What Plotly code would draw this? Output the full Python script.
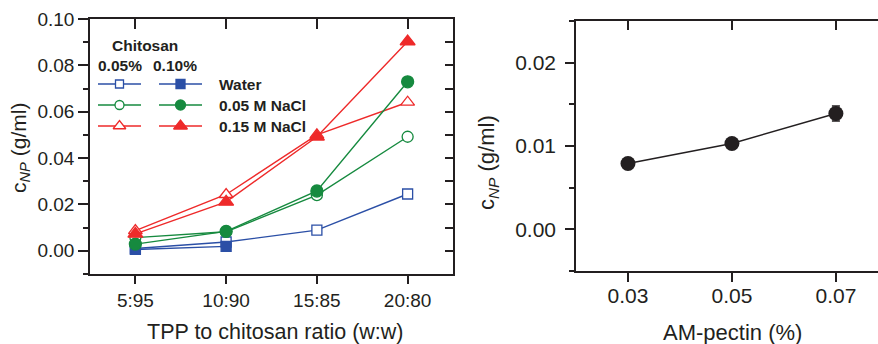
import plotly.graph_objects as go

W, H = 878, 344

# ---------------- data ----------------
ratios = ["5:95", "10:90", "15:85", "20:80"]

water_005 = [0.0010, 0.0038, 0.0089, 0.0245]
water_010 = [0.0006, 0.0019]
nacl005_005 = [0.0057, 0.0082, 0.0240, 0.0492]
nacl005_010 = [0.0029, 0.0084, 0.0258, 0.0729]
nacl015_005 = [0.0087, 0.0243, 0.0500, 0.0641]
nacl015_010 = [0.0073, 0.0211, 0.0492, 0.0903]

pectin = [0.03, 0.05, 0.07]
pectin_c = [0.0079, 0.0103, 0.0139]
pectin_err = [0.0003, 0.0003, 0.0009]

left_yticks = [0.00, 0.02, 0.04, 0.06, 0.08, 0.10]
right_yticks = [0.00, 0.01, 0.02]

BLUE = "#2B4FA6"
GREEN = "#168A3F"
RED = "#EE2A2A"
INK = "#231f20"
FONT = "Liberation Sans, Arial, sans-serif"


def px(x):
    return x / W


def py(y):
    return 1 - y / H


xpos = list(range(len(ratios)))

fig = go.Figure()

series = [
    (water_005, BLUE, "square", True, 10),
    (nacl005_005, GREEN, "circle", True, 11),
    (nacl015_005, RED, "triangle-up", True, 12),
    (water_010, BLUE, "square", False, 10),
    (nacl005_010, GREEN, "circle", False, 12),
    (nacl015_010, RED, "triangle-up", False, 13),
]

for vals, col, sym, opn, sz in series:
    fig.add_trace(go.Scatter(
        x=xpos[:len(vals)], y=vals, xaxis="x", yaxis="y",
        mode="lines+markers",
        line=dict(color=col, width=1.4),
        marker=dict(symbol=sym, size=sz,
                    color="white" if opn else col,
                    line=dict(color=col, width=1.3)),
        showlegend=False, hoverinfo="skip",
    ))

# right panel
fig.add_trace(go.Scatter(
    x=pectin, y=pectin_c, xaxis="x2", yaxis="y2",
    mode="lines+markers",
    line=dict(color=INK, width=1.4),
    marker=dict(symbol="circle", size=15, color=INK),
    error_y=dict(type="data", array=pectin_err, color=INK, thickness=1.5, width=4),
    showlegend=False, hoverinfo="skip",
))

# dummy traces for overlay tick axes
for xa, ya in [("x4", "y"), ("x", "y5"), ("x6", "y2")]:
    fig.add_trace(go.Scatter(x=[None], y=[None], xaxis=xa, yaxis=ya,
                             showlegend=False, hoverinfo="skip"))

# legend samples on a pixel overlay
leg_rows = [(84, BLUE, "square", 8, 9), (105, GREEN, "circle", 9, 10), (126, RED, "triangle-up", 11, 12)]
for yrow, col, sym, s_open, s_fill in leg_rows:
    for x0, x1, xm, opn, sz in [(98, 141, 119.5, True, s_open), (159, 202, 180.5, False, s_fill)]:
        fig.add_trace(go.Scatter(
            x=[x0, x1], y=[yrow, yrow], xaxis="x3", yaxis="y3", mode="lines",
            line=dict(color=col, width=1.4), showlegend=False, hoverinfo="skip"))
        fig.add_trace(go.Scatter(
            x=[xm], y=[yrow], xaxis="x3", yaxis="y3", mode="markers",
            marker=dict(symbol=sym, size=sz, color="white" if opn else col,
                        line=dict(color=col, width=1.3)),
            showlegend=False, hoverinfo="skip"))

axis_common = dict(showgrid=False, zeroline=False, linecolor=INK, linewidth=1.5,
                   tickcolor=INK, tickwidth=1.5, automargin=False)

ldom_x = [px(90), px(453)]
ldom_y = [py(274), py(19)]
rdom_x = [px(576), 1.0]
rdom_y = [py(271), py(21)]

fig.update_layout(
    width=W, height=H,
    margin=dict(l=0, r=0, t=0, b=0, pad=0, autoexpand=False),
    paper_bgcolor="white", plot_bgcolor="rgba(0,0,0,0)",
    font=dict(family=FONT, color=INK, size=19),
    showlegend=False,
    xaxis=dict(domain=ldom_x, anchor="y", range=[-0.5, 3.5],
               tickvals=xpos, ticktext=ratios, ticks="outside", ticklen=8,
               showline=True, mirror=True, tickfont=dict(size=19),
               **axis_common),
    yaxis=dict(domain=ldom_y, anchor="x", range=[-0.01, 0.10],
               tickvals=left_yticks, tickformat=".2f", ticks="outside", ticklen=10,
               minor=dict(dtick=0.01, ticks="outside", ticklen=5, tickcolor=INK, tickwidth=1.5),
               showline=True, mirror=True, tickfont=dict(size=19),
               **axis_common),
    xaxis4=dict(domain=ldom_x, anchor="y", overlaying="x", side="top", range=[-0.5, 3.5],
                tickvals=xpos, ticks="inside", ticklen=10, showticklabels=False,
                showline=False, **axis_common),
    yaxis5=dict(domain=ldom_y, anchor="x", overlaying="y", side="right", range=[-0.01, 0.10],
                tickvals=left_yticks, ticks="inside", ticklen=8, showticklabels=False,
                minor=dict(dtick=0.01, ticks="inside", ticklen=8, tickcolor=INK, tickwidth=1.5),
                showline=False, **axis_common),
    xaxis2=dict(domain=rdom_x, anchor="y2", range=[0.02, 0.0781],
                tickvals=pectin, tickformat=".2f", ticks="outside", ticklen=9,
                ticklabelstandoff=-4,
                showline=True, mirror=True, tickfont=dict(size=21),
                **axis_common),
    yaxis2=dict(domain=rdom_y, anchor="x2", range=[-0.005, 0.025],
                tickvals=right_yticks, tickformat=".2f", ticks="outside", ticklen=9,
                ticklabelstandoff=5,
                minor=dict(dtick=0.005, ticks="outside", ticklen=5, tickcolor=INK, tickwidth=1.5),
                showline=True, mirror=False, tickfont=dict(size=21),
                **axis_common),
    xaxis6=dict(domain=rdom_x, anchor="y2", overlaying="x2", side="top", range=[0.02, 0.0781],
                tickvals=pectin, ticks="inside", ticklen=9, showticklabels=False,
                showline=False, **axis_common),
    xaxis3=dict(domain=[0, 1], anchor="y3", range=[0, W], visible=False, fixedrange=True,
                automargin=False),
    yaxis3=dict(domain=[0, 1], anchor="x3", range=[H, 0], visible=False, fixedrange=True,
                automargin=False),
)

ann = []
def text(x, y, t, size, bold=False, xanchor="center", angle=0):
    ann.append(dict(x=px(x), y=py(y), xref="paper", yref="paper", text=f"<b>{t}</b>" if bold else t,
                    showarrow=False, xanchor=xanchor, yanchor="middle", textangle=angle,
                    font=dict(family=FONT, size=size, color=INK)))

text(145, 45, "Chitosan", 15.5, bold=True)
text(120, 65, "0.05%", 15.5, bold=True)
text(175, 65, "0.10%", 15.5, bold=True)
text(217, 84, "Water", 15.5, bold=True, xanchor="left")
text(217, 105, "0.05 M NaCl", 15.5, bold=True, xanchor="left")
text(217, 126, "0.15 M NaCl", 15.5, bold=True, xanchor="left")

text(275, 332, "TPP to chitosan ratio (w:w)", 21.5)
text(732, 332, "AM-pectin (%)", 22)
text(20, 148, "c<sub><i>NP</i></sub> (g/ml)", 21)
ann[-1]["textangle"] = -90
text(488, 163, "c<sub><i>NP</i></sub> (g/ml)", 22)
ann[-1]["textangle"] = -90

fig.update_layout(annotations=ann)
fig.write_html("out.html")
